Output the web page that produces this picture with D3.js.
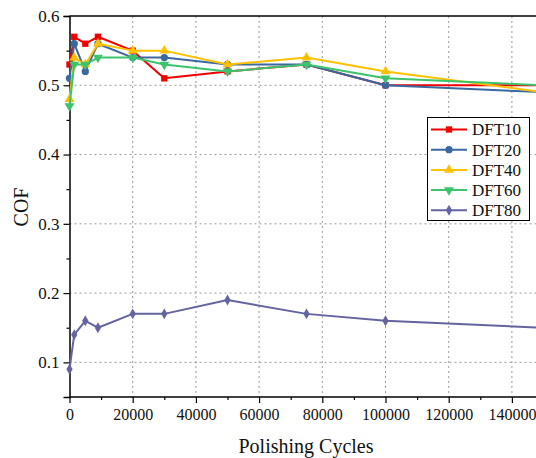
<!DOCTYPE html>
<html>
<head>
<meta charset="utf-8">
<script src="https://cdn.jsdelivr.net/npm/d3@7"></script>
<style>
  html, body { margin: 0; padding: 0; background: #fff; }
  svg, svg text { font-family: "Liberation Serif", "Times New Roman", Times, "DejaVu Serif", serif !important; }
  svg { display: block; }
</style>
</head>
<body>
<svg id="chart" width="536" height="458"></svg>
<script>
// Polishing cycles at which COF was measured
const cycles = [0, 1500, 5000, 9000, 20000, 30000, 50000, 75000, 100000, 150000];

// Coefficient of friction per coating
const dft10 = [0.53, 0.57, 0.56, 0.57, 0.55, 0.51, 0.52, 0.53, 0.50, 0.50];
const dft20 = [0.51, 0.56, 0.52, 0.56, 0.54, 0.54, 0.53, 0.53, 0.50, 0.49];
const dft40 = [0.48, 0.54, 0.53, 0.56, 0.55, 0.55, 0.53, 0.54, 0.52, 0.49];
const dft60 = [0.47, 0.53, 0.53, 0.54, 0.54, 0.53, 0.52, 0.53, 0.51, 0.50];
const dft80 = [0.09, 0.14, 0.16, 0.15, 0.17, 0.17, 0.19, 0.17, 0.16, 0.15];

const seriesNames = ["DFT10", "DFT20", "DFT40", "DFT60", "DFT80"];
const seriesValues = [dft10, dft20, dft40, dft60, dft80];
const seriesColors = ["#f00000", "#3a69a0", "#ffc000", "#3cc36c", "#6464a0"];
const seriesSymbols = [d3.symbolSquare, d3.symbolCircle, d3.symbolTriangle, d3.symbolTriangle, d3.symbolDiamond];
const symbolSizes = [40, 42, 42, 42, 34];
const symbolRotate = [0, 0, 0, 180, 0];

const xTicks = [0, 20000, 40000, 60000, 80000, 100000, 120000, 140000];
const yTicks = [0.1, 0.2, 0.3, 0.4, 0.5, 0.6];

const svg = d3.select("#chart");
const W = 536, H = 458;
const padLeft = 69.5, padTop = 16, padBottom = 397;

const x = d3.scaleLinear().domain([0, 150000]).range([padLeft, 543.5]);
const y = d3.scaleLinear().domain([0.05, 0.6]).range([padBottom, padTop]);

// Dotted grid
const grid = svg.append("g").attr("stroke", "#9a9a9a").attr("stroke-width", 1).attr("stroke-dasharray", "2,3");
xTicks.filter(t => t > 0).forEach(t => {
  grid.append("line").attr("x1", x(t)).attr("x2", x(t)).attr("y1", padTop).attr("y2", padBottom);
});
yTicks.filter(t => t < 0.6).forEach(t => {
  grid.append("line").attr("x1", padLeft).attr("x2", W).attr("y1", y(t)).attr("y2", y(t));
});

// Top frame line
svg.append("line").attr("x1", padLeft).attr("x2", W).attr("y1", padTop).attr("y2", padTop)
  .attr("stroke", "#000").attr("stroke-width", 1.5);

// Axes
const xAxis = svg.append("g").attr("transform", `translate(0,${padBottom})`)
  .call(d3.axisBottom(x).tickValues(xTicks).tickFormat(d3.format("d")).tickSize(6).tickPadding(6));
const xMinor = svg.append("g").attr("transform", `translate(0,${padBottom})`)
  .call(d3.axisBottom(x).tickValues(d3.range(10000, 150000, 20000)).tickFormat("").tickSize(3));
const yAxis = svg.append("g").attr("transform", `translate(${padLeft},0)`)
  .call(d3.axisLeft(y).tickValues(yTicks).tickFormat(d3.format(".1f")).tickSize(6).tickPadding(4));
const yMinor = svg.append("g").attr("transform", `translate(${padLeft},0)`)
  .call(d3.axisLeft(y).tickValues([0.15, 0.25, 0.35, 0.45, 0.55]).tickFormat("").tickSize(3));

[xAxis, xMinor, yAxis, yMinor].forEach(g => {
  g.attr("font-family", null);
  g.select(".domain").attr("stroke", "#000").attr("stroke-width", 1.5);
  g.selectAll(".tick line").attr("stroke", "#000").attr("stroke-width", 1.2);
  g.selectAll("text").attr("font-size", 16).attr("fill", "#111");
});
yAxis.selectAll("text").attr("font-size", 17);
xAxis.select(".domain").attr("d", `M${padLeft},0H${W}`);
xMinor.select(".domain").remove();
yMinor.select(".domain").remove();

// Axis titles
svg.append("text").attr("x", 306).attr("y", 453).attr("text-anchor", "middle")
  .attr("font-size", 20).attr("fill", "#111").text("Polishing Cycles");
svg.append("text").attr("transform", "translate(28,207) rotate(-90)").attr("text-anchor", "middle")
  .attr("font-size", 20).attr("fill", "#111").text("COF");

// Series
const plot = svg.append("g");
const line = d3.line().x((d, i) => x(cycles[i])).y(d => y(d));
seriesValues.forEach((vals, s) => {
  const g = plot.append("g");
  g.append("path").datum(vals).attr("d", line).attr("fill", "none")
    .attr("stroke", seriesColors[s]).attr("stroke-width", 2).attr("stroke-linejoin", "round");
  g.selectAll("path.m").data(vals).join("path").attr("class", "m")
    .attr("d", d3.symbol().type(seriesSymbols[s]).size(symbolSizes[s]))
    .attr("transform", (d, i) => `translate(${x(cycles[i])},${y(d)}) rotate(${symbolRotate[s]})`)
    .attr("fill", seriesColors[s]);
});

// Legend
const lg = svg.append("g");
lg.append("rect").attr("x", 427.5).attr("y", 117.5).attr("width", 102).attr("height", 103)
  .attr("fill", "#fff").attr("stroke", "#000").attr("stroke-width", 1);
seriesNames.forEach((name, s) => {
  const cy = 129.5 + s * 20.2;
  lg.append("line").attr("x1", 431).attr("x2", 467).attr("y1", cy).attr("y2", cy)
    .attr("stroke", seriesColors[s]).attr("stroke-width", 2);
  lg.append("path").attr("d", d3.symbol().type(seriesSymbols[s]).size(symbolSizes[s])())
    .attr("transform", `translate(449,${cy}) rotate(${symbolRotate[s]})`)
    .attr("fill", seriesColors[s]);
  lg.append("text").attr("x", 472).attr("y", cy).attr("dy", "0.35em")
    .attr("font-size", 17).attr("fill", "#111").text(name);
});
</script>
</body>
</html>
